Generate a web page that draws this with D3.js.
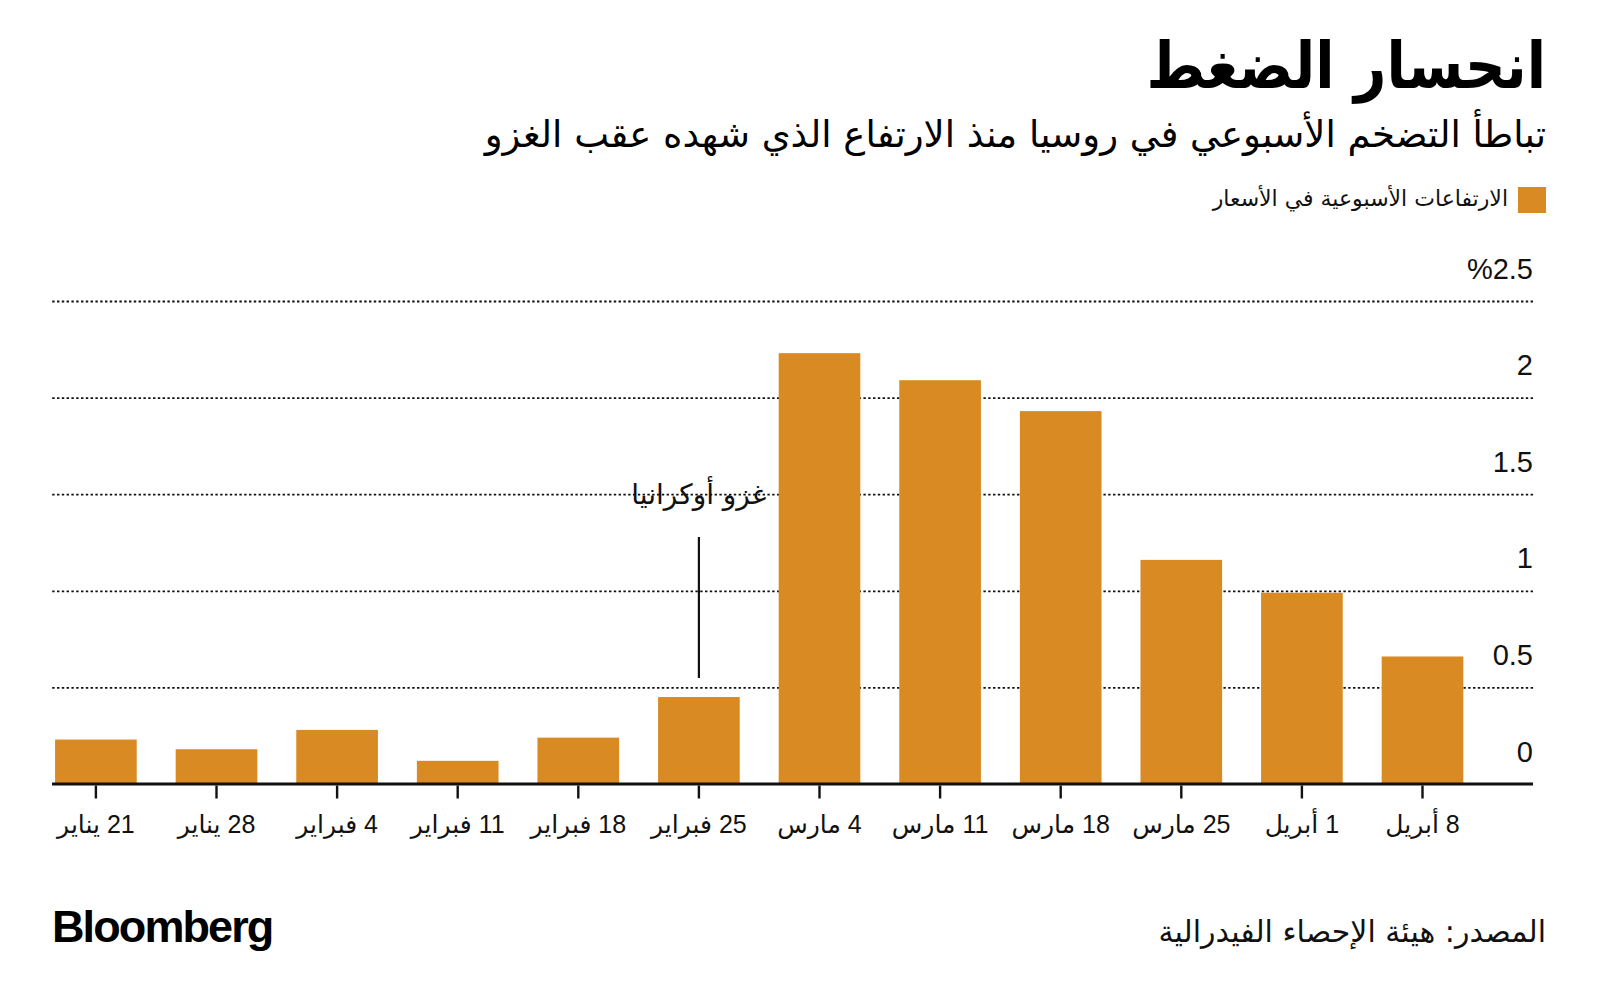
<!DOCTYPE html>
<html>
<head>
<meta charset="utf-8">
<script src="https://cdn.jsdelivr.net/npm/d3@7"></script>
<style>
  html, body { margin: 0; padding: 0; background: #fff; }
  svg { display: block; }
</style>
</head>
<body>
<svg id="chart" width="1600" height="1006"></svg>
<script>
const categories = ["21 يناير","28 يناير","4 فبراير","11 فبراير","18 فبراير","25 فبراير","4 مارس","11 مارس","18 مارس","25 مارس","1 أبريل","8 أبريل"];
const values = [0.23, 0.18, 0.28, 0.12, 0.24, 0.45, 2.23, 2.09, 1.93, 1.16, 0.99, 0.66];
const yTicks = [0, 0.5, 1, 1.5, 2, 2.5];
const yTickLabels = ["0", "0.5", "1", "1.5", "2", "%2.5"];
const title = "انحسار الضغط";
const subtitle = "تباطأ التضخم الأسبوعي في روسيا منذ الارتفاع الذي شهده عقب الغزو";
const legendLabel = "الارتفاعات الأسبوعية في الأسعار";
const annotationLabel = "غزو أوكرانيا";
const annotationCategory = "25 فبراير";
const sourceLabel = "المصدر: هيئة الإحصاء الفيدرالية";

const ORANGE = "#D98A23";
const arFont = "'DejaVu Sans', 'Noto Sans', sans-serif";
const numFont = "'Liberation Sans', 'DejaVu Sans', sans-serif";

const svg = d3.select("#chart");
svg.append("rect").attr("width", 1600).attr("height", 1006).attr("fill", "#fff");

const plotLeft = 52, plotRight = 1533;
const x = d3.scaleBand().domain(categories).range([35.6, 1482.8]).paddingInner(0.323).paddingOuter(0.1615);
const y = d3.scaleLinear().domain([0, 2.5]).range([784, 301]);

// gridlines + y labels
const yAxis = svg.append("g").attr("transform", `translate(${plotRight},0)`)
  .call(d3.axisLeft(y).tickValues(yTicks).tickSize(plotRight - plotLeft)
    .tickFormat((d, i) => yTickLabels[i]));
yAxis.select(".domain").remove();
yAxis.selectAll(".tick line")
  .attr("stroke", "#111").attr("stroke-width", 1.8).attr("stroke-dasharray", "2.4,2.4")
  .attr("opacity", d => d === 0 ? 0 : 1);
yAxis.selectAll(".tick text")
  .attr("x", 0).attr("dy", -23).attr("text-anchor", "end")
  .attr("font-family", numFont).attr("font-size", 29).attr("fill", "#111");

// bars
svg.append("g").selectAll("rect").data(values).join("rect")
  .attr("x", (d, i) => x(categories[i]))
  .attr("width", x.bandwidth())
  .attr("y", d => y(d))
  .attr("height", d => y(0) - y(d))
  .attr("fill", ORANGE);

// baseline
svg.append("line").attr("x1", plotLeft).attr("x2", plotRight)
  .attr("y1", y(0)).attr("y2", y(0)).attr("stroke", "#111").attr("stroke-width", 3);

// x axis
const xAxis = svg.append("g").attr("transform", `translate(0,${y(0) + 1.5})`)
  .call(d3.axisBottom(x).tickSize(13).tickPadding(17));
xAxis.select(".domain").remove();
xAxis.selectAll(".tick line").attr("stroke", "#111").attr("stroke-width", 2.4);
xAxis.selectAll(".tick text")
  .attr("direction", "rtl").attr("text-anchor", "middle")
  .attr("font-family", numFont).attr("font-size", 25).attr("fill", "#111");

// annotation
const ax = x(annotationCategory) + x.bandwidth() / 2;
svg.append("line").attr("x1", ax).attr("x2", ax).attr("y1", 537).attr("y2", 678)
  .attr("stroke", "#111").attr("stroke-width", 2.2);
svg.append("text").attr("x", ax).attr("y", 504).attr("text-anchor", "middle")
  .attr("font-family", arFont).attr("font-size", 28).attr("fill", "#111")
  .text(annotationLabel);

// title & subtitle
svg.append("text")
  .attr("transform", "translate(1546,88) scale(0.88,1)")
  .attr("x", 0).attr("y", 0).attr("text-anchor", "end")
  .attr("font-family", arFont).attr("font-weight", "bold").attr("font-size", 64).attr("fill", "#000")
  .text(title);
svg.append("text").attr("x", 1546).attr("y", 147).attr("text-anchor", "end")
  .attr("font-family", arFont).attr("font-size", 37).attr("fill", "#000")
  .text(subtitle);

// legend
svg.append("rect").attr("x", 1518).attr("y", 187).attr("width", 28).attr("height", 26).attr("fill", ORANGE);
svg.append("text").attr("x", 1508).attr("y", 206).attr("text-anchor", "end")
  .attr("font-family", arFont).attr("font-size", 22).attr("fill", "#111")
  .text(legendLabel);

// footer
svg.append("text").attr("x", 52).attr("y", 942)
  .attr("font-family", "'Liberation Sans', Arial, sans-serif").attr("font-weight", "bold")
  .attr("font-size", 45).attr("letter-spacing", -1.9).attr("fill", "#000")
  .text("Bloomberg");
svg.append("text").attr("x", 1546).attr("y", 942).attr("text-anchor", "end")
  .attr("font-family", arFont).attr("font-size", 30).attr("fill", "#111")
  .text(sourceLabel);
</script>
</body>
</html>
